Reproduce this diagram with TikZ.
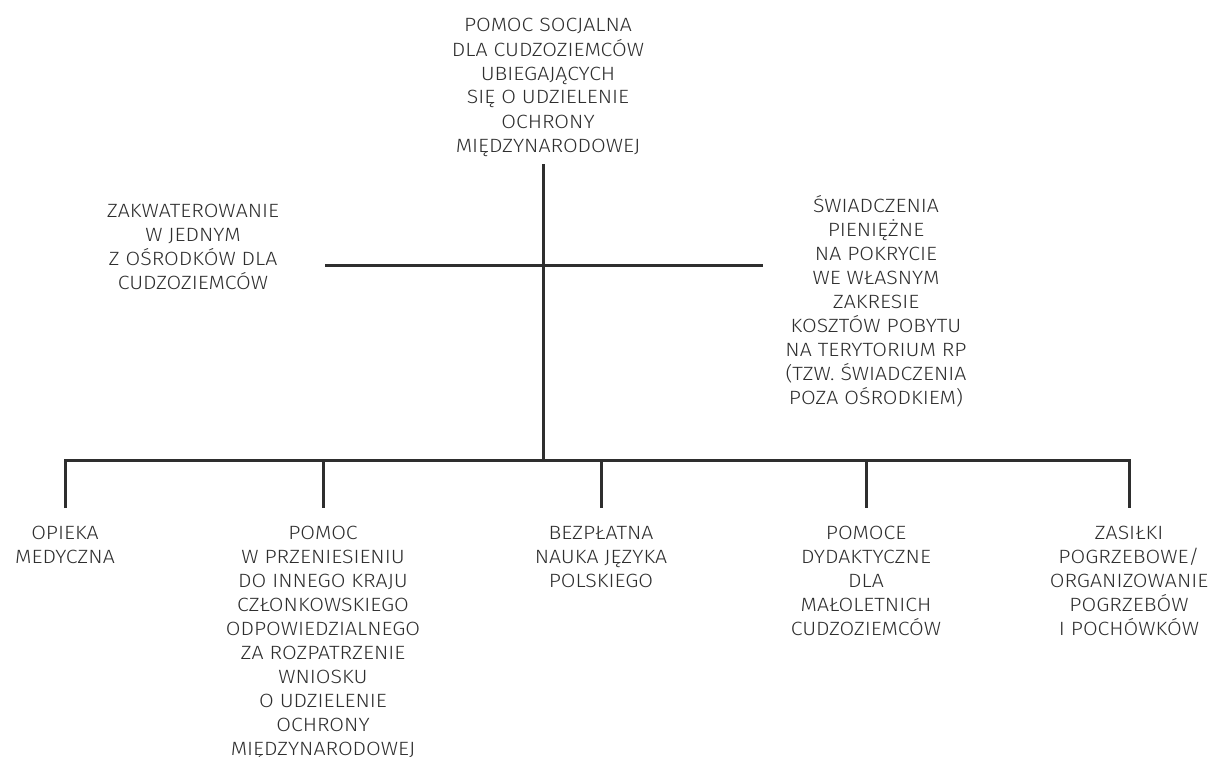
\documentclass[tikz,border=0pt]{standalone}
\usepackage{fontspec}
\setmainfont{Fira Sans}[UprightFont={* Light}, FakeStretch=1.11]
\usetikzlibrary{positioning}
\definecolor{inkgray}{HTML}{2E2E2E}
\tikzset{
    lbl/.style={align=center, text=inkgray, inner sep=0pt, anchor=base,
        font=\fontsize{14.4}{18}\selectfont},
    branch/.style={line width=2.25pt, draw=inkgray}
}

\begin{document}
\begin{tikzpicture}[x=0.75pt, y=-0.75pt]
    \useasboundingbox (0,0) rectangle (1212,756);
    % Top (placed by the baseline of the last line)
    \node[lbl] (root) at (548,152) {POMOC SOCJALNA\\DLA CUDZOZIEMCÓW\\UBIEGAJĄCYCH\\SIĘ O UDZIELENIE\\OCHRONY\\MIĘDZYNARODOWEJ};
    % Middle
    \node[lbl] (lodging) at (193,289) {ZAKWATEROWANIE\\W JEDNYM\\Z OŚRODKÓW DLA\\CUDZOZIEMCÓW};
    \node[lbl] (cash) at (876,404) {ŚWIADCZENIA\\PIENIĘŻNE\\NA POKRYCIE\\WE WŁASNYM\\ZAKRESIE\\KOSZTÓW POBYTU\\NA TERYTORIUM RP\\(TZW. ŚWIADCZENIA\\POZA OŚRODKIEM)};
    % Bottom row
    \node[lbl] (medical) at (65,563) {OPIEKA\\MEDYCZNA};
    \node[lbl] (transfer) at (323,755) {POMOC\\W PRZENIESIENIU\\DO INNEGO KRAJU\\CZŁONKOWSKIEGO\\ODPOWIEDZIALNEGO\\ZA ROZPATRZENIE\\WNIOSKU\\O UDZIELENIE\\OCHRONY\\MIĘDZYNARODOWEJ};
    \node[lbl] (language) at (601,587) {BEZPŁATNA\\NAUKA JĘZYKA\\POLSKIEGO};
    \node[lbl] (teaching) at (866,635) {POMOCE\\DYDAKTYCZNE\\DLA\\MAŁOLETNICH\\CUDZOZIEMCÓW};
    \node[lbl] (burial) at (1129,635) {ZASIŁKI\\POGRZEBOWE/\\ORGANIZOWANIE\\POGRZEBÓW\\I POCHÓWKÓW};
    % Lines
    \coordinate (trunktop) at (543,164);
    \coordinate (midL) at (325,265);
    \coordinate (midR) at (763,265);
    \coordinate (bar) at (543,460);
    \coordinate (foot) at (0,508);
    \draw[branch] (trunktop) -- (bar);
    \draw[branch] (midL) -- (midR);
    \draw[branch] (medical |- foot) |- (bar) -| (burial |- foot);
    \foreach \n in {transfer,language,teaching}
        \draw[branch] (\n |- bar) -- (\n |- foot);
\end{tikzpicture}
\end{document}
